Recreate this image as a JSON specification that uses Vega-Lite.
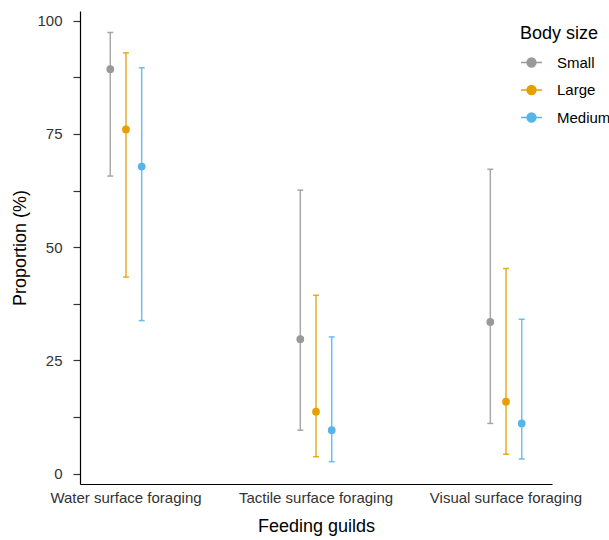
{
  "$schema": "https://vega.github.io/schema/vega-lite/v6.json",
  "width": 472,
  "height": 473,
  "autosize": {"type": "none"},
  "padding": {"left": 80, "top": 11, "right": 57, "bottom": 56},
  "background": "white",
  "config": {
    "view": {"stroke": null},
    "font": "Liberation Sans",
    "axis": {
      "domainColor": "#000000",
      "domainWidth": 1.2,
      "tickColor": "#333333",
      "tickWidth": 1.2,
      "labelFont": "Liberation Sans",
      "labelFontSize": 15,
      "labelColor": "#333333",
      "titleFont": "Liberation Sans",
      "titleFontSize": 18,
      "titleFontWeight": "normal",
      "titleColor": "#000000",
      "grid": false
    },
    "axisX": {"ticks": false, "tickSize": 0, "labelPadding": 6, "titlePadding": 12, "labelAngle": 0},
    "axisY": {"tickSize": 7, "labelPadding": 11, "titlePadding": 7}
  },
  "data": {
    "values": [
      {"guild": "Water surface foraging", "size": "Small", "value": 89.3, "lower": 65.7, "upper": 97.4},
      {"guild": "Water surface foraging", "size": "Large", "value": 76.0, "lower": 43.4, "upper": 92.9},
      {"guild": "Water surface foraging", "size": "Medium", "value": 67.8, "lower": 33.8, "upper": 89.6},
      {"guild": "Tactile surface foraging", "size": "Small", "value": 29.7, "lower": 9.6, "upper": 62.6},
      {"guild": "Tactile surface foraging", "size": "Large", "value": 13.7, "lower": 3.75, "upper": 39.4},
      {"guild": "Tactile surface foraging", "size": "Medium", "value": 9.6, "lower": 2.65, "upper": 30.2},
      {"guild": "Visual surface foraging", "size": "Small", "value": 33.5, "lower": 11.1, "upper": 67.2},
      {"guild": "Visual surface foraging", "size": "Large", "value": 15.9, "lower": 4.3, "upper": 45.3},
      {"guild": "Visual surface foraging", "size": "Medium", "value": 11.1, "lower": 3.25, "upper": 34.1}
    ]
  },
  "encoding": {
    "x": {
      "field": "guild",
      "type": "nominal",
      "sort": ["Water surface foraging", "Tactile surface foraging", "Visual surface foraging"],
      "scale": {"paddingInner": 0.752, "paddingOuter": 0.118},
      "title": "Feeding guilds"
    },
    "xOffset": {
      "field": "size",
      "type": "nominal",
      "sort": ["Small", "Large", "Medium"],
      "scale": {"paddingInner": 0, "paddingOuter": 0}
    },
    "color": {
      "field": "size",
      "type": "nominal",
      "sort": ["Small", "Large", "Medium"],
      "scale": {"domain": ["Small", "Large", "Medium"], "range": ["#999999", "#E69F00", "#56B4E9"]},
      "legend": {
        "orient": "none",
        "legendX": 440,
        "legendY": 14,
        "padding": 0,
        "title": "Body size",
        "titleFont": "Liberation Sans",
        "titleFontSize": 18,
        "titleFontWeight": "normal",
        "titleColor": "#000000",
        "titlePadding": 8,
        "labelFont": "Liberation Sans",
        "labelFontSize": 15,
        "labelColor": "#000000",
        "labelOffset": 14,
        "rowPadding": 7.5,
        "symbolType": "M-1,0L1,0M0.42,0A0.42,0.42,0,1,1,-0.42,0A0.42,0.42,0,1,1,0.42,0Z",
        "symbolSize": 441,
        "symbolStrokeWidth": 1.5,
        "symbolOpacity": 1,
        "encode": {
          "symbols": {
            "update": {
              "fill": {"field": "value", "scale": "color"},
              "stroke": {"field": "value", "scale": "color"},
              "strokeWidth": {"value": 1.5}
            }
          }
        }
      }
    }
  },
  "layer": [
    {
      "mark": {"type": "rule", "strokeWidth": 1.5, "opacity": 0.85},
      "encoding": {
        "y": {
          "field": "lower",
          "type": "quantitative",
          "title": "Proportion (%)",
          "scale": {"domain": [-2.27, 102.14], "nice": false, "zero": false},
          "axis": {
            "values": [0, 12.5, 25, 37.5, 50, 62.5, 75, 87.5, 100],
            "labelExpr": "datum.value % 25 === 0 ? datum.label : ''",
            "format": "d"
          }
        },
        "y2": {"field": "upper"}
      }
    },
    {
      "mark": {"type": "tick", "thickness": 1.5, "size": 6, "opacity": 0.85},
      "encoding": {
        "y": {
          "field": "lower",
          "type": "quantitative",
          "title": "Proportion (%)",
          "scale": {"domain": [-2.27, 102.14], "nice": false, "zero": false}
        }
      }
    },
    {
      "mark": {"type": "tick", "thickness": 1.5, "size": 6, "opacity": 0.85},
      "encoding": {
        "y": {
          "field": "upper",
          "type": "quantitative",
          "title": "Proportion (%)",
          "scale": {"domain": [-2.27, 102.14], "nice": false, "zero": false}
        }
      }
    },
    {
      "mark": {"type": "point", "filled": true, "size": 60, "opacity": 1},
      "encoding": {
        "y": {
          "field": "value",
          "type": "quantitative",
          "title": "Proportion (%)",
          "scale": {"domain": [-2.27, 102.14], "nice": false, "zero": false}
        }
      }
    }
  ]
}
